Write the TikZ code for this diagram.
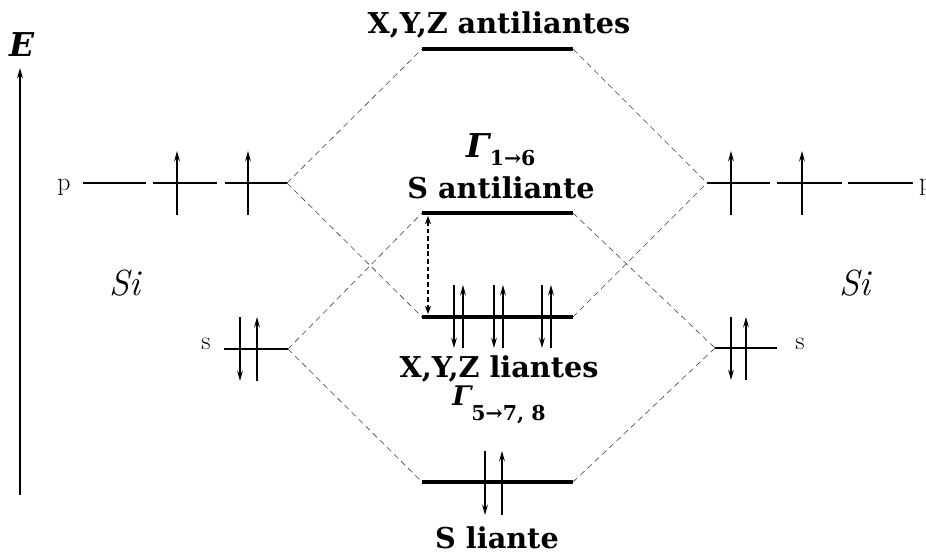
\documentclass[tikz,border=0pt]{standalone}
\usepackage{fontspec}
\usetikzlibrary{arrows.meta}
\newfontfamily\labelfont{DejaVu Serif}

\begin{document}
\begin{tikzpicture}[x=0.03cm, y=-0.03cm]

% Define styles
\tikzset{
    levelline/.style={line width=2.6pt},
    atomline/.style={line width=2pt},
    linkline/.style={line width=0.5pt, black!75, dash pattern=on 5pt off 3.5pt},
    spin/.style={line width=1.2pt, -{Stealth[length=9pt, width=5pt, inset=3.5pt]}},
    gapline/.style={line width=1.9pt, dash pattern=on 4pt off 2.5pt, {Stealth[length=7pt]}-{Stealth[length=7pt]}},
    boldlabel/.style={anchor=base, inner sep=0pt, font=\labelfont\bfseries\fontsize{24.5}{26}\selectfont},
    gammalabel/.style={anchor=base, inner sep=0pt, font=\labelfont\bfseries\fontsize{28}{30}\selectfont},
    orbital/.style={inner sep=0pt, font=\fontsize{22}{24}\selectfont},
    atomname/.style={inner sep=0pt, font=\itshape\fontsize{31}{33}\selectfont}
}

\useasboundingbox (0,0) rectangle (926,554);

% Energy axis
\coordinate (axbot) at (20,495);
\coordinate (axtop) at (20,68);
\node[inner sep=0pt, font=\labelfont\bfseries\itshape\fontsize{28}{30}\selectfont] (Elabel) at (22,45) {E};
\draw[line width=1.6pt, -{Stealth[length=9pt, width=5pt]}] (axbot) -- (axtop);

% Molecular levels (centre)
\coordinate (aXL) at (422,49);  \coordinate (aXR) at (573,49);  % X,Y,Z antiliantes
\coordinate (aSL) at (422,213); \coordinate (aSR) at (573,213); % S antiliante
\coordinate (bXL) at (422,317); \coordinate (bXR) at (573,317); % X,Y,Z liantes
\coordinate (bSL) at (422,482); \coordinate (bSR) at (573,482); % S liante
\draw[levelline] (aXL) -- (aXR);
\draw[levelline] (aSL) -- (aSR);
\draw[levelline] (bXL) -- (bXR);
\draw[levelline] (bSL) -- (bSR);

% Atomic levels (left and right)
\coordinate (pL) at (287,183); \coordinate (pR) at (707,183);
\coordinate (sL) at (288,349); \coordinate (sR) at (715,348);
\foreach \xa/\xb in {83/146, 153/217, 225/287, 707/770, 777/842, 848/913}
    \draw[atomline] (\xa,183) -- (\xb,183);
\draw[atomline] (224,349) -- (sL);
\draw[atomline] (sR) -- (777,348);

% Dashed correlation lines
\draw[linkline] (pL) -- (aXL);
\draw[linkline] (pL) -- (bXL);
\draw[linkline] (sL) -- (aSL);
\draw[linkline] (sL) -- (bSL);
\draw[linkline] (aXR) -- (pR);
\draw[linkline] (bXR) -- (pR);
\draw[linkline] (aSR) -- (sR);
\draw[linkline] (bSR) -- (sR);

% Single electrons on p
\foreach \xe in {177, 248, 731, 802}
    \draw[spin] (\xe,215) -- (\xe,151);
% Electron pairs: down at \xd, up at \xu
\foreach \xd/\xu/\ya/\yb in {240/257/317/381, 731/746/317/380, 454/463/285/348, 494/503/285/348, 542/551/285/348, 485/502/451/515} {
    \draw[spin] (\xd,\ya) -- (\xd,\yb);
    \draw[spin] (\xu,\yb) -- (\xu,\ya);
}

% Gap between S antiliante and X,Y,Z liantes
\coordinate (gapT) at (428,216);
\coordinate (gapB) at (428,314);
\draw[gapline] (gapT) -- (gapB);

% Labels
\node[boldlabel] (tAX) at (499,33) {X,Y,Z antiliantes};
\node[boldlabel] (tAS) at (501,198) {S antiliante};
\node[boldlabel] (tBX) at (499,377) {X,Y,Z liantes};
\node[boldlabel] (tBS) at (497,548) {S liante};
\node[gammalabel] (g1) at (501,157)
    {\itshape Γ\upshape\fontsize{17.5}{18}\selectfont\raisebox{-7pt}{1→6}};
\node[gammalabel, font=\labelfont\bfseries\fontsize{23}{25}\selectfont] (g2) at (499,405)
    {\itshape Γ\upshape\fontsize{17.5}{18}\selectfont\raisebox{-13pt}{5→7, 8}};

\node[orbital] (pLlab) at (64,187) {p};
\node[orbital, anchor=west] (pRlab) at (919,187) {p};
\node[orbital] (sLlab) at (206,344) {s};
\node[orbital] (sRlab) at (800,344) {s};
\node[atomname] (siL) at (125,283) {Si};
\node[atomname] (siR) at (855,283) {Si};

\end{tikzpicture}
\end{document}
